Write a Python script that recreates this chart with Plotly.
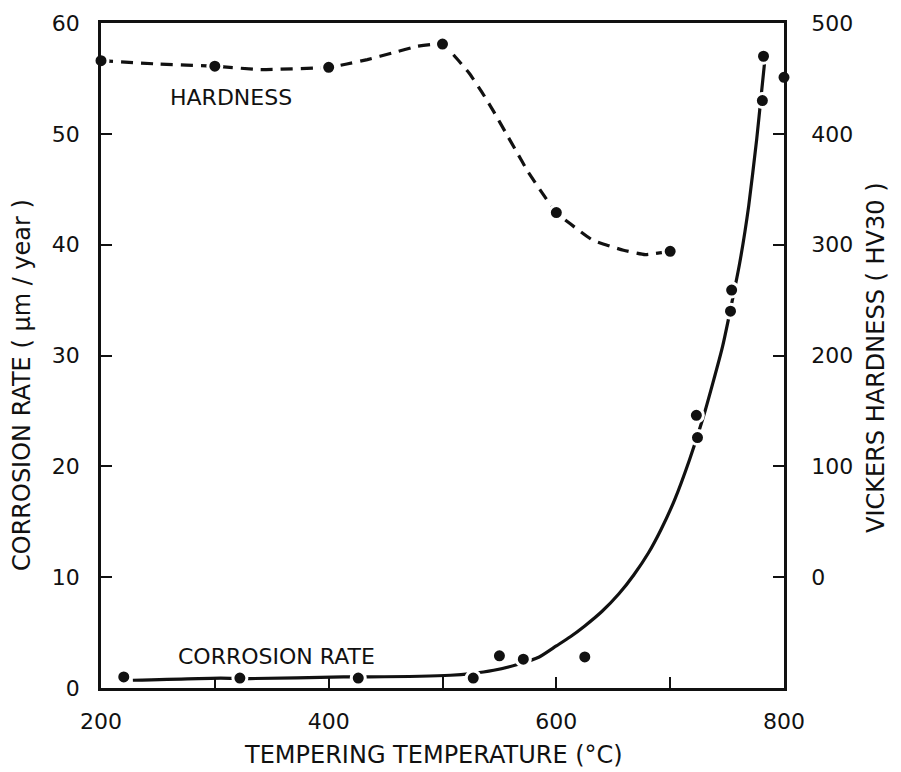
import plotly.graph_objects as go

# ---- data ----
# Vickers hardness measurements (right axis, HV30)
hard_temp = [200, 300, 400, 500, 600, 700]
hard_val = [466, 461, 460, 481, 329, 294]

# fitted hardness curve (dashed)
hard_curve_t = [200, 250, 300, 340, 400, 416, 434, 456, 478, 500, 509, 524, 535,
                545, 555, 565, 575, 588, 600, 612, 632, 659, 678, 700]
hard_curve_v = [466, 463, 461, 458, 460, 463, 467, 473, 479, 481, 472, 454, 437,
                420, 402, 384, 366, 346, 329, 319, 304, 295, 291, 294]

# corrosion-rate measurements (left axis, um/year)
corr_temp = [220, 322, 426, 527, 550, 571, 625, 723, 724, 753, 754, 781, 782, 800]
corr_val = [1.0, 0.9, 0.9, 0.9, 2.9, 2.6, 2.8, 24.6, 22.6, 34.0, 35.9, 53.0, 57.0, 55.1]

# fitted corrosion curve (solid)
corr_curve_t = [228, 305, 331, 413, 436, 507, 525, 545, 565, 585, 600, 612, 625,
                640, 655, 668, 681, 692, 704, 717, 729, 746, 761, 769, 776, 780, 783]
corr_curve_v = [0.7, 0.9, 0.85, 1.0, 1.0, 1.15, 1.3, 1.6, 2.1, 2.8, 3.8, 4.6, 5.6,
                6.9, 8.5, 10.2, 12.2, 14.3, 17.0, 20.6, 24.4, 30.8, 38.3, 43.5, 49.5,
                53.5, 56.5]

x_ticks = [200, 400, 600, 800]
left_ticks = [0, 10, 20, 30, 40, 50, 60]
right_ticks = [0, 100, 200, 300, 400, 500]

FONT = "DejaVu Sans"
INK = "#111111"

fig = go.Figure()

# curves
fig.add_trace(go.Scatter(x=corr_curve_t, y=corr_curve_v, mode="lines",
                         line=dict(color=INK, width=3.2, shape="spline", smoothing=0.5),
                         hoverinfo="skip", showlegend=False))
fig.add_trace(go.Scatter(x=hard_curve_t, y=hard_curve_v, mode="lines", yaxis="y2",
                         line=dict(color=INK, width=3.2, dash="12px,8px",
                                   shape="spline", smoothing=0.4),
                         hoverinfo="skip", showlegend=False))
# points
marker = dict(color=INK, size=14, line=dict(color="white", width=3))
fig.add_trace(go.Scatter(x=corr_temp, y=corr_val, mode="markers", marker=marker,
                         cliponaxis=False, name="Corrosion rate", showlegend=False))
fig.add_trace(go.Scatter(x=hard_temp, y=hard_val, mode="markers", marker=marker,
                         yaxis="y2", cliponaxis=False, name="Hardness", showlegend=False))

axis_common = dict(showgrid=False, zeroline=False, showline=True, linecolor=INK,
                   linewidth=2.5, ticks="inside", ticklen=11, tickwidth=2,
                   tickcolor=INK, tickfont=dict(family=FONT, size=22, color=INK))

def title_ann(text, px, py, angle=0):
    return dict(text=text, xref="paper", yref="paper",
                x=(px - 101) / 683, y=(688 - py) / 665, showarrow=False,
                xanchor="center", yanchor="middle", textangle=angle,
                font=dict(family=FONT, size=24, color=INK))

fig.update_layout(
    width=901, height=772,
    margin=dict(l=101, r=117, t=23, b=84),
    paper_bgcolor="white", plot_bgcolor="white",
    font=dict(family=FONT, color=INK),
    xaxis=dict(range=[200, 800], tickvals=x_ticks, mirror=True,
               minor=dict(dtick=100, tick0=200, ticks="inside", ticklen=11,
                          tickwidth=2, tickcolor=INK),
               ticklabelstandoff=12, **axis_common),
    yaxis=dict(range=[0, 60], tickvals=left_ticks, ticklabelstandoff=14, **axis_common),
    yaxis2=dict(range=[-100, 500], tickvals=right_ticks, overlaying="y", side="right",
                ticklabelstandoff=20, **axis_common),
    annotations=[
        title_ann("TEMPERING TEMPERATURE (°C)", 433, 755),
        title_ann("CORROSION RATE ( μm / year )", 22, 385, -90),
        title_ann("VICKERS HARDNESS ( HV30 )", 876, 357, -90),
        dict(text="HARDNESS", xref="x", yref="y", x=314, y=53.3, showarrow=False,
             xanchor="center", yanchor="middle",
             font=dict(family=FONT, size=22, color=INK)),
        dict(text="CORROSION RATE", xref="x", yref="y", x=354, y=2.8, showarrow=False,
             xanchor="center", yanchor="middle",
             font=dict(family=FONT, size=22, color=INK)),
    ],
)

fig.write_html("out.html")
